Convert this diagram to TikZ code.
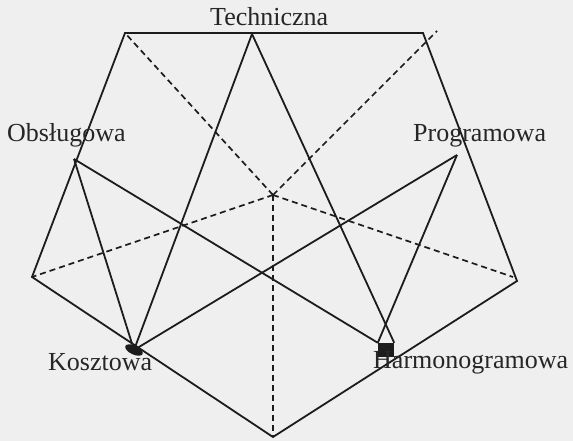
\documentclass[tikz,border=0pt]{standalone}
\usepackage{fontspec}
\setmainfont{Liberation Serif}
\usetikzlibrary{shapes.geometric}
\definecolor{bg}{RGB}{239,239,239}
\definecolor{ink}{RGB}{28,28,28}
\definecolor{txt}{RGB}{38,38,38}
\begin{document}
\begin{tikzpicture}[x=1pt,y=-1pt,
  edge/.style={draw=ink, line width=1.8pt, line join=miter},
  dashline/.style={draw=ink, line width=1.7pt, dash pattern=on 6pt off 4pt},
  lbl/.style={font=\fontsize{26}{30}\selectfont, text=txt, inner sep=0pt, anchor=base west},
  ]
\fill[bg] (0,0) rectangle (573,441);
\useasboundingbox (0,0) rectangle (573,441);
% outer vertices
\coordinate (TL) at (125,33);
\coordinate (TR) at (423,33);
\coordinate (R) at (517,281);
\coordinate (B) at (273,437);
\coordinate (L) at (32,277);
\coordinate (C) at (273,195);
\coordinate (TRd) at (437,31);
\coordinate (Rd) at (513,277);
% inner points
\coordinate (Tp) at (252,34);
\coordinate (Op) at (74,159);
\coordinate (Pp) at (457,155);
\node[ellipse, fill=ink, minimum width=19pt, minimum height=9pt, inner sep=0pt, rotate=-25] (K) at (134,350) {};
\node[rectangle, fill=ink, minimum width=16pt, minimum height=14pt, inner sep=0pt] (H) at (386,350) {};
% dashed spokes
\draw[dashline] (C) -- (TL);
\draw[dashline] (C) -- (TRd);
\draw[dashline] (C) -- (L);
\draw[dashline] (C) -- (Rd);
\draw[dashline] (C) -- (B);
% pentagon
\draw[edge] (TL) -- (TR) -- (R) -- (B) -- (L) -- cycle;
% inner connections
\draw[edge] (Tp) -- (K);
\draw[edge] (Tp) -- (H.north east);
\draw[edge] (Op) -- (K);
\draw[edge] (Op) -- (H.north west);
\draw[edge] (Pp) -- (K);
\draw[edge] (Pp) -- (H.north west);
% labels
\node[lbl] (lT) at (210,26) {Techniczna};
\node[lbl] (lO) at (7,142) {Obsługowa};
\node[lbl] (lP) at (413,142) {Programowa};
\node[lbl] (lK) at (48,370) {Kosztowa};
\node[lbl] (lH) at (373,368) {Harmonogramowa};
\end{tikzpicture}
\end{document}
